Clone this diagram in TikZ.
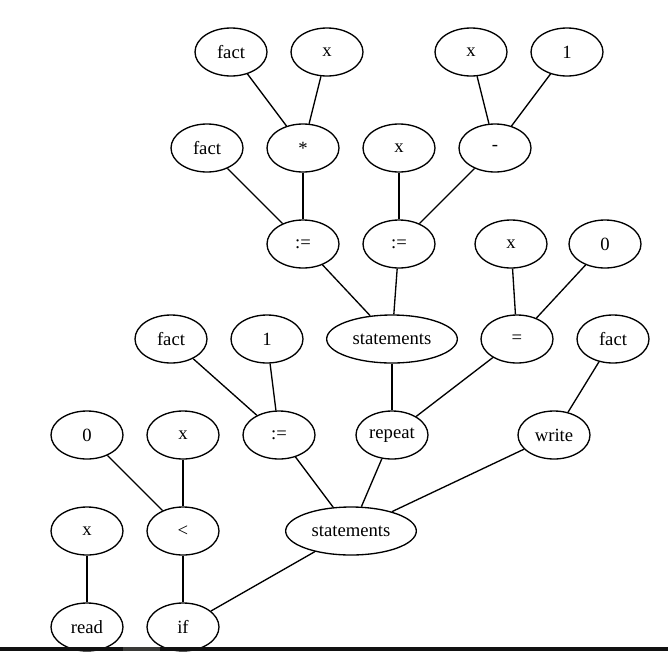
\documentclass[tikz,border=0pt]{standalone}
\usepackage{fontspec}
\setmainfont{Liberation Serif}
\usepackage{tikz}
\usetikzlibrary{shapes.geometric}
\definecolor{AstBar}{HTML}{111111}
\definecolor{AstBarGray}{HTML}{3A3A38}
\tikzset{
  astnode/.style={ellipse,draw=black,line width=1pt,fill=white,inner sep=0pt,
    minimum width=54pt,minimum height=36pt,font=\fontsize{14pt}{16pt}\selectfont},
  widenode/.style={astnode,minimum width=98pt},
  edge/.style={draw=black,line width=1pt}
}

\begin{document}
\begin{tikzpicture}[x=0.75pt,y=-0.75pt]
  \useasboundingbox (0,0) rectangle (668,651);

  \node[astnode] (factA) at (231,52) {fact};
  \node[astnode] (xA) at (327,52) {x};
  \node[astnode] (xB) at (471,52) {x};
  \node[astnode] (oneA) at (567,52) {1};

  \node[astnode] (factB) at (207,148) {fact};
  \node[astnode] (mul) at (303,148) {*};
  \node[astnode] (xC) at (399,148) {x};
  \node[astnode] (sub) at (495,148) {-};

  \node[astnode] (assignA) at (303,244) {:=};
  \node[astnode] (assignB) at (399,244) {:=};
  \node[astnode] (xD) at (511,244) {x};
  \node[astnode] (zeroA) at (605,244) {0};

  \node[astnode] (factC) at (171,339) {fact};
  \node[astnode] (oneB) at (267,339) {1};
  \node[widenode] (stmtsA) at (392,339) {statements};
  \node[astnode] (eq) at (517,339) {=};
  \node[astnode] (factD) at (613,339) {fact};

  \node[astnode] (zeroB) at (87,435) {0};
  \node[astnode] (xE) at (183,435) {x};
  \node[astnode] (assignC) at (279,435) {:=};
  \node[astnode] (repeat) at (392,435) {repeat};
  \node[astnode] (write) at (554,435) {write};

  \node[astnode] (xF) at (87,531) {x};
  \node[astnode] (less) at (183,531) {<};
  \node[widenode] (stmtsB) at (351,531) {statements};

  \node[astnode] (read) at (87,627) {read};
  \node[astnode] (if) at (183,627) {if};

  \draw[edge] (factA) -- (mul);
  \draw[edge] (xA) -- (mul);
  \draw[edge] (xB) -- (sub);
  \draw[edge] (oneA) -- (sub);
  \draw[edge] (factB) -- (assignA);
  \draw[edge] (mul) -- (assignA);
  \draw[edge] (xC) -- (assignB);
  \draw[edge] (sub) -- (assignB);
  \draw[edge] (assignA) -- (stmtsA);
  \draw[edge] (assignB) -- (stmtsA);
  \draw[edge] (xD) -- (eq);
  \draw[edge] (zeroA) -- (eq);
  \draw[edge] (factC) -- (assignC);
  \draw[edge] (oneB) -- (assignC);
  \draw[edge] (stmtsA) -- (repeat);
  \draw[edge] (eq) -- (repeat);
  \draw[edge] (factD) -- (write);
  \draw[edge] (zeroB) -- (less);
  \draw[edge] (xE) -- (less);
  \draw[edge] (assignC) -- (stmtsB);
  \draw[edge] (repeat) -- (stmtsB);
  \draw[edge] (write) -- (stmtsB);
  \draw[edge] (xF) -- (read);
  \draw[edge] (less) -- (if);
  \draw[edge] (stmtsB) -- (if);

  \fill[AstBar] (0,647) rectangle (668,651);
  \fill[AstBarGray] (123,647) rectangle (160,651);
\end{tikzpicture}
\end{document}
